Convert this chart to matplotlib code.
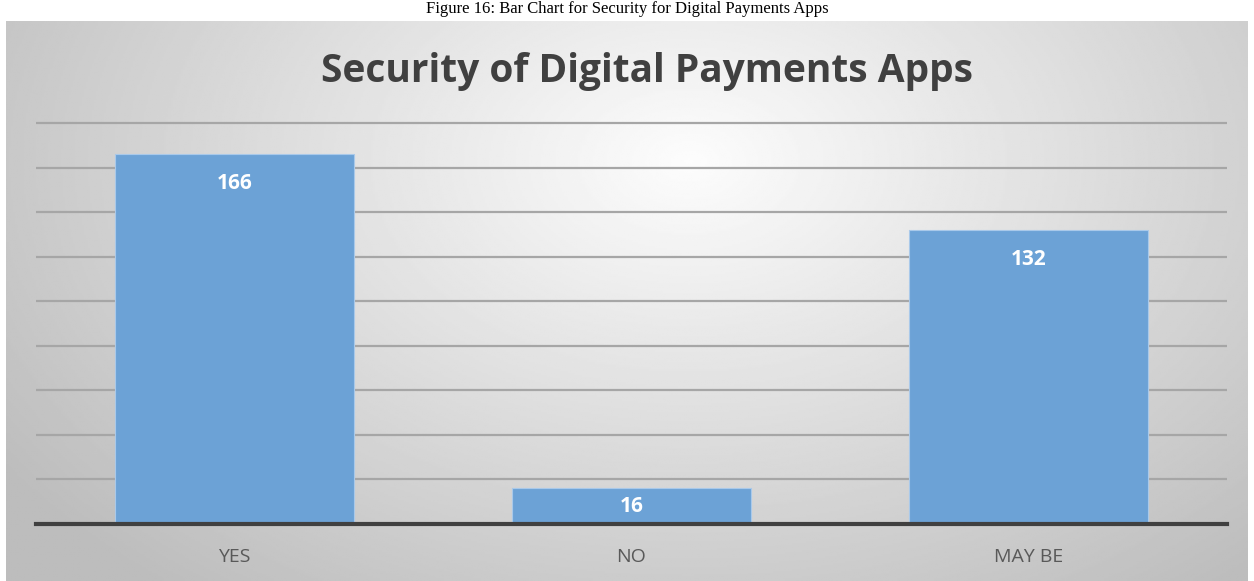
import numpy as np
import matplotlib.pyplot as plt

# data
categories = ["YES", "NO", "MAY BE"]
values = [166, 16, 132]

fig = plt.figure(figsize=(12.54, 5.81), dpi=100)

# chart area background: soft radial gray gradient
bg = fig.add_axes([6 / 1254, 0, 1242 / 1254, 560 / 581])
yy, xx = np.mgrid[0:1:300j, 0:1:600j]
r = np.sqrt(((xx - 0.55) / 0.75) ** 2 + ((yy - 0.25) / 1.1) ** 2)
shade = np.clip(0.99 - 0.28 * r, 0.74, 1.0)
bg.imshow(shade, cmap="gray", vmin=0, vmax=1, aspect="auto", extent=(0, 1, 0, 1))
bg.set_axis_off()

# caption of the figure above the chart
fig.text(0.5, 0.999, "Figure 16: Bar Chart for Security for Digital Payments Apps",
         ha="center", va="top", fontsize=12, family="Liberation Serif", color="black")

ax = fig.add_axes([36 / 1254, 57 / 581, 1191 / 1254, 403 / 581])
ax.patch.set_alpha(0)
x = np.arange(len(categories))
bars = ax.bar(x, values, width=0.6, color="#6ca2d6", edgecolor="#a9c9ea", linewidth=0.8, zorder=2)

ax.set_xlim(-0.5, len(categories) - 0.5)
ax.set_ylim(0, 181)
ax.set_yticks(np.arange(20, 181, 20))
ax.yaxis.grid(True, color="#a6a6a6", linewidth=1.6, zorder=0)
ax.tick_params(axis="y", left=False, labelleft=False)
ax.tick_params(axis="x", length=0, pad=17, labelsize=14, labelcolor="#595959")
ax.set_xticks(x)
ax.set_xticklabels(categories, family="Open Sans")
for side in ["top", "right", "left"]:
    ax.spines[side].set_visible(False)
ax.spines["bottom"].set_color("#404040")
ax.spines["bottom"].set_linewidth(3)
ax.spines["bottom"].set_zorder(3)

# value labels inside the bar top; short bars get the label centred
for b, v in zip(bars, values):
    ypos = v - 13 if v > 30 else v / 2
    ax.text(b.get_x() + b.get_width() / 2, ypos, str(v), ha="center", va="center",
            fontsize=15, fontweight="bold", color="white", family="Open Sans", zorder=4)

fig.text(0.516, 0.877, "Security of Digital Payments Apps", ha="center", va="center",
         fontsize=28, fontweight="bold", color="#404040", family="Open Sans")

fig.savefig("out.png", dpi=100)
